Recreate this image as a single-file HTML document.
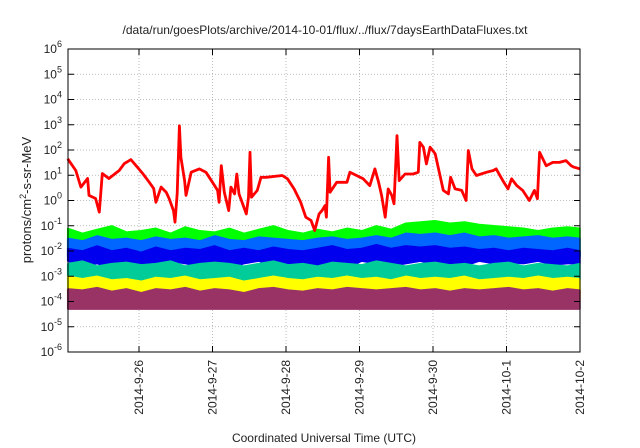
<!DOCTYPE html>
<html><head><meta charset="utf-8"><style>
html,body{margin:0;padding:0;background:#fff;}
svg{display:block;font-family:"Liberation Sans",sans-serif;}
</style></head><body>
<svg id="chart" width="640" height="448" viewBox="0 0 640 448" xmlns="http://www.w3.org/2000/svg">
<rect x="0" y="0" width="640" height="448" fill="#fff"/>
<text x="325" y="34" font-size="12" text-anchor="middle" fill="#222">/data/run/goesPlots/archive/2014-10-01/flux/../flux/7daysEarthDataFluxes.txt</text>
<text x="324" y="442" font-size="12" text-anchor="middle" fill="#222">Coordinated Universal Time (UTC)</text>
<text transform="translate(31,200) rotate(-90)" font-size="13" text-anchor="middle" fill="#222">protons/cm<tspan dy="-5" font-size="9">2</tspan><tspan dy="5">-s-sr-MeV</tspan></text>
<g id="grid"></g><g id="series"></g><g id="axes"></g>
</svg>
<script>
const dayLabels=["2014-9-26","2014-9-27","2014-9-28","2014-9-29","2014-9-30","2014-10-1","2014-10-2"];
const dayPos=[1,2,3,4,5,6,7];
const yExps=[-6,-5,-4,-3,-2,-1,0,1,2,3,4,5,6];
const redT=[0.03,0.14,0.21,0.30,0.32,0.41,0.46,0.50,0.59,0.73,0.80,0.89,0.96,1.05,1.14,1.20,1.23,1.30,1.37,1.41,1.47,1.49,1.52,1.55,1.57,1.62,1.64,1.71,1.82,1.91,2.00,2.07,2.09,2.12,2.16,2.22,2.25,2.30,2.33,2.36,2.46,2.49,2.51,2.53,2.61,2.66,2.73,2.95,3.02,3.11,3.20,3.27,3.34,3.39,3.45,3.49,3.53,3.55,3.58,3.60,3.69,3.83,3.87,3.96,4.05,4.14,4.21,4.26,4.30,4.35,4.39,4.44,4.47,4.51,4.54,4.62,4.73,4.80,4.82,4.87,4.91,4.96,5.03,5.10,5.14,5.21,5.24,5.30,5.39,5.45,5.48,5.53,5.59,5.73,5.82,5.86,5.95,6.02,6.07,6.14,6.22,6.31,6.38,6.42,6.45,6.54,6.63,6.72,6.81,6.88,6.92,7.0];
const redLog=[1.65,1.19,0.53,0.87,0.2,0.08,-0.46,1.07,0.87,1.19,1.46,1.62,1.38,1.07,0.72,0.47,-0.07,0.53,0.33,0.08,-0.40,-0.86,0.28,2.96,1.71,0.79,0.2,1.12,1.25,1.12,0.72,0.40,-0.07,1.38,0.33,-0.40,0.53,0.26,1.05,0.26,-0.53,0.13,1.91,0.13,0.40,0.92,0.92,0.99,0.86,0.46,-0.07,-0.66,-0.79,-1.19,-0.53,-0.40,-0.2,-0.66,1.71,0.33,0.72,0.72,1.12,0.99,0.86,0.59,1.25,0.72,0.2,-0.66,0.46,0.2,-0.13,2.57,0.79,1.05,1.05,1.12,2.30,2.11,1.45,2.11,1.85,0.92,0.40,0.26,0.92,0.46,0.40,0,1.98,1.25,0.99,1.12,1.19,1.25,0.79,0.46,0.86,0.59,0.40,0,0.40,0.07,1.91,1.38,1.51,1.51,1.58,1.38,1.32,1.25];
const bandT=[0.03,0.23,0.43,0.63,0.83,1.03,1.23,1.43,1.63,1.83,2.03,2.23,2.43,2.63,2.83,3.03,3.23,3.43,3.63,3.83,4.03,4.23,4.43,4.63,4.83,5.03,5.23,5.43,5.63,5.83,6.03,6.23,6.43,6.63,6.83,7.0];
const greenTop=[-1.1,-1.3,-1.15,-1.0,-1.25,-1.2,-1.1,-1.3,-1.05,-1.2,-1.25,-1.1,-1.3,-1.15,-1.0,-1.2,-1.3,-1.15,-1.25,-1.1,-1.2,-1.0,-1.15,-0.9,-0.85,-0.8,-0.9,-0.85,-0.95,-1.0,-1.05,-1.1,-1.2,-1.1,-1.05,-1.1];
const lightBlueTop=[-1.5,-1.6,-1.4,-1.55,-1.5,-1.6,-1.45,-1.55,-1.5,-1.6,-1.4,-1.55,-1.6,-1.45,-1.5,-1.55,-1.6,-1.5,-1.45,-1.55,-1.5,-1.4,-1.5,-1.3,-1.35,-1.3,-1.4,-1.3,-1.45,-1.4,-1.5,-1.45,-1.4,-1.5,-1.45,-1.5];
const darkBlueTop=[-1.9,-2.0,-1.8,-2.0,-1.9,-2.05,-1.85,-2.0,-1.9,-1.95,-1.8,-2.0,-1.9,-2.0,-1.85,-1.95,-2.0,-1.9,-1.8,-1.95,-1.9,-1.75,-1.9,-1.8,-1.85,-1.8,-1.9,-1.85,-1.95,-1.9,-2.0,-1.9,-1.95,-2.0,-1.9,-2.0];
const darkBlueBot=[-2.4,-2.6,-2.5,-2.7,-2.4,-2.5,-2.6,-2.4,-2.5,-2.6,-2.45,-2.7,-2.5,-2.4,-2.6,-2.5,-2.45,-2.6,-2.5,-2.7,-2.4,-2.5,-2.6,-2.5,-2.4,-2.55,-2.5,-2.6,-2.4,-2.5,-2.45,-2.5,-2.4,-2.55,-2.5,-2.5];
const tealTop=[-2.5,-2.4,-2.6,-2.5,-2.45,-2.55,-2.5,-2.4,-2.6,-2.5,-2.45,-2.5,-2.6,-2.5,-2.4,-2.55,-2.5,-2.6,-2.45,-2.5,-2.55,-2.4,-2.5,-2.6,-2.5,-2.45,-2.55,-2.5,-2.6,-2.5,-2.45,-2.6,-2.5,-2.55,-2.6,-2.5];
const yellowTop=[-3.0,-3.1,-3.0,-3.15,-3.1,-3.2,-3.05,-3.1,-3.0,-3.15,-3.1,-3.05,-3.2,-3.1,-3.0,-3.1,-3.15,-3.05,-3.1,-3.0,-3.1,-3.05,-3.15,-3.0,-3.1,-3.05,-3.1,-3.0,-3.15,-3.1,-3.05,-3.1,-3.0,-3.1,-3.05,-3.1];
const purpleTop=[-3.5,-3.55,-3.45,-3.6,-3.5,-3.65,-3.5,-3.55,-3.45,-3.6,-3.5,-3.55,-3.65,-3.5,-3.45,-3.55,-3.6,-3.5,-3.55,-3.45,-3.5,-3.55,-3.5,-3.45,-3.55,-3.5,-3.6,-3.5,-3.55,-3.5,-3.45,-3.55,-3.5,-3.6,-3.5,-3.55];
const bandFloors=[-2.2,-2.25,-3.15,-3.9,-4.3];

const X0=68,X1=580,Y0=352,Y1=49,TMIN=0.034,TMAX=7,LMIN=-6,LMAX=6;
const sx=t=>X0+(t-TMIN)/(TMAX-TMIN)*(X1-X0);
const sy=v=>Y0-(v-LMIN)/(LMAX-LMIN)*(Y0-Y1);
const NS="http://www.w3.org/2000/svg";
function mk(tag,parent){const e=document.createElementNS(NS,tag);parent.appendChild(e);return e;}
const grid=document.getElementById('grid'),series=document.getElementById('series'),axes=document.getElementById('axes');

yExps.forEach(e=>{
  const y=sy(e);
  if(e>LMIN&&e<LMAX){
    const g=mk('line',grid);
    
    
    g.setAttribute('x1',X0);g.setAttribute('x2',X1);g.setAttribute('y1',y);g.setAttribute('y2',y);
    g.setAttribute('stroke','#aaa');g.setAttribute('stroke-width','0.8');g.setAttribute('stroke-dasharray','1,2');
  }
  const tl=mk('path',axes);
  
  
  tl.setAttribute('d',`M${X0},${y}h6M${X1},${y}h-6`);tl.setAttribute('stroke','#000');
  const t=mk('text',axes);
  
  
  t.setAttribute('x',X0-6);t.setAttribute('y',y+4);t.setAttribute('font-size','12');t.setAttribute('text-anchor','end');t.setAttribute('fill','#222');
  t.innerHTML=`10<tspan dy="-6" font-size="9">${e}</tspan>`;
});
dayPos.forEach((d,i)=>{
  const x=sx(d);
  if(d<TMAX){
    const g=mk('line',grid);
    
    
    g.setAttribute('x1',x);g.setAttribute('x2',x);g.setAttribute('y1',Y1);g.setAttribute('y2',Y0);
    g.setAttribute('stroke','#aaa');g.setAttribute('stroke-width','0.8');g.setAttribute('stroke-dasharray','1,2');
  }
  const tl=mk('path',axes);
  
  
  tl.setAttribute('d',`M${x},${Y0}v-6M${x},${Y1}v6`);tl.setAttribute('stroke','#000');
  const t=mk('text',axes);
  
  
  t.setAttribute('transform',`translate(${x+4},${Y0+8}) rotate(-90)`);t.setAttribute('font-size','12');t.setAttribute('text-anchor','end');t.setAttribute('fill','#222');
  t.textContent=dayLabels[i];
});

function band(top,bot,color,name){
  let d='M'+bandT.map((t,i)=>`${sx(t).toFixed(1)},${sy(top[i]).toFixed(1)}`).join('L');
  for(let i=bandT.length-1;i>=0;i--){const b=Array.isArray(bot)?bot[i]:bot;d+=`L${sx(bandT[i]).toFixed(1)},${sy(b).toFixed(1)}`;}
  const p=mk('path',series);
  
  
  p.setAttribute('d',d+'Z');p.setAttribute('fill',color);p.setAttribute('stroke',color);p.setAttribute('stroke-width','1.5');p.setAttribute('stroke-linejoin','bevel');
}
band(greenTop,bandFloors[0],'#00ff00','green-series');
band(lightBlueTop,bandFloors[1],'#0066ff','light-blue-series');
band(darkBlueTop,darkBlueBot,'#0000ee','dark-blue-series');
band(tealTop,bandFloors[2],'#00cc99','teal-series');
band(yellowTop,bandFloors[3],'#ffff00','yellow-series');
band(purpleTop,bandFloors[4],'#993366','purple-series');

const red=mk('path',series);


red.setAttribute('d','M'+redT.map((t,i)=>`${sx(t).toFixed(1)},${sy(redLog[i]).toFixed(1)}`).join('L'));
red.setAttribute('fill','none');red.setAttribute('stroke','#ff0000');red.setAttribute('stroke-width','2.8');red.setAttribute('stroke-linejoin','round');

const fr=mk('rect',axes);


fr.setAttribute('x',X0);fr.setAttribute('y',Y1);fr.setAttribute('width',X1-X0);fr.setAttribute('height',Y0-Y1);
fr.setAttribute('fill','none');fr.setAttribute('stroke','#000');fr.setAttribute('stroke-width','1');
</script>
</body></html>
